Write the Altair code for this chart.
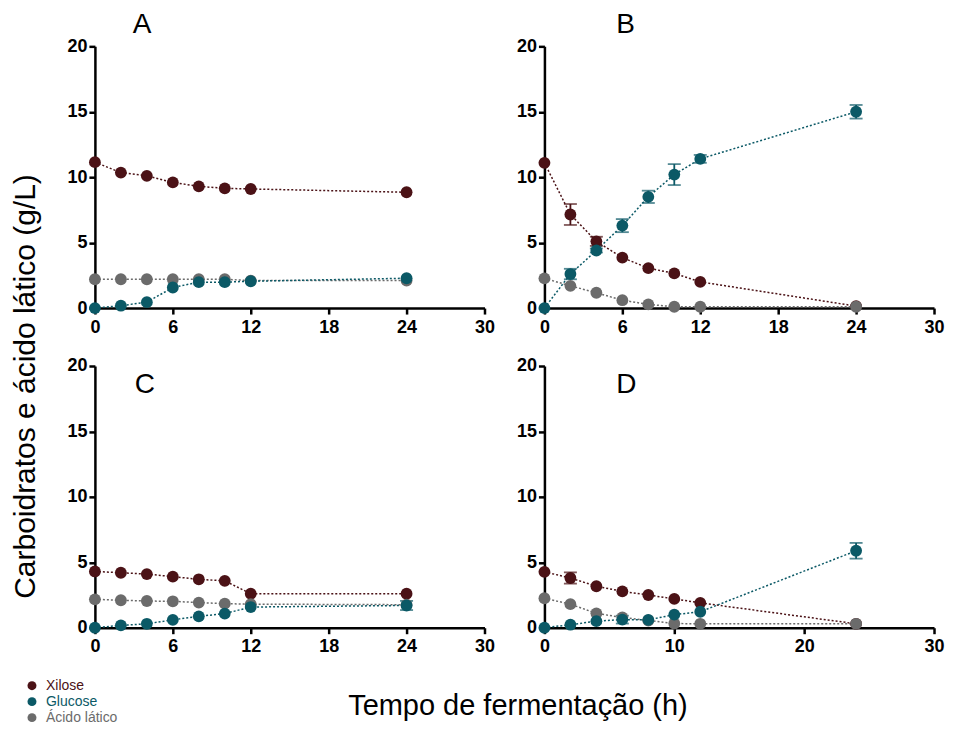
import altair as alt
import pandas as pd

# ---------------- data ----------------
times = [0, 2, 4, 6, 8, 10, 12, 24]
series_names = ["Xilose", "Glucose", "Ácido lático"]
series_colors = ["#4b1216", "#0b5966", "#6b6b6b"]
panel_labels = ["A", "B", "C", "D"]
xticks_abc = [0, 6, 12, 18, 24, 30]
xticks_d = [0, 10, 20, 30]
yticks = [0, 5, 10, 15, 20]

# Panel A
xil_A = [11.15, 10.35, 10.1, 9.6, 9.3, 9.15, 9.1, 8.85]
glc_A = [0.0, 0.18, 0.45, 1.57, 1.98, 1.98, 2.05, 2.28]
lac_A = [2.2, 2.2, 2.2, 2.2, 2.2, 2.2, 2.1, 2.1]
xil_A_err = [0, 0, 0, 0, 0, 0, 0, 0]
glc_A_err = [0, 0, 0, 0, 0, 0, 0, 0]
lac_A_err = [0, 0, 0, 0, 0, 0, 0, 0]

# Panel B
xil_B = [11.1, 7.15, 5.1, 3.85, 3.05, 2.65, 2.0, 0.15]
glc_B = [0.0, 2.6, 4.4, 6.3, 8.5, 10.2, 11.4, 15.0]
lac_B = [2.27, 1.7, 1.17, 0.6, 0.28, 0.1, 0.1, 0.1]
xil_B_err = [0, 0.8, 0.35, 0, 0, 0, 0, 0]
glc_B_err = [0, 0.4, 0.15, 0.5, 0.47, 0.8, 0.3, 0.52]
lac_B_err = [0, 0, 0, 0, 0, 0, 0, 0]

# Panel C
xil_C = [4.3, 4.2, 4.1, 3.9, 3.7, 3.58, 2.6, 2.6]
glc_C = [0.0, 0.18, 0.3, 0.6, 0.87, 1.08, 1.58, 1.7]
lac_C = [2.17, 2.1, 2.04, 2.02, 1.92, 1.84, 1.8, 1.76]
xil_C_err = [0, 0, 0, 0, 0, 0, 0, 0]
glc_C_err = [0, 0, 0, 0, 0, 0, 0, 0.35]
lac_C_err = [0, 0, 0, 0, 0, 0, 0, 0]

# Panel D
xil_D = [4.27, 3.8, 3.17, 2.78, 2.5, 2.2, 1.9, 0.3]
glc_D = [0.0, 0.23, 0.5, 0.62, 0.6, 1.0, 1.22, 5.88]
lac_D = [2.25, 1.8, 1.1, 0.78, 0.55, 0.32, 0.3, 0.3]
xil_D_err = [0, 0.43, 0, 0, 0, 0, 0, 0]
glc_D_err = [0, 0, 0, 0.3, 0, 0, 0, 0.6]
lac_D_err = [0, 0, 0, 0, 0, 0, 0, 0]

FONT = "Liberation Sans"
W, H = 390, 262


def panel_df(xil, glc, lac, xil_e, glc_e, lac_e):
    rows = []
    # drawing order: Xilose, Ácido lático, Glucose (glucose on top)
    for name, vals, errs in [("Xilose", xil, xil_e),
                             ("Ácido lático", lac, lac_e),
                             ("Glucose", glc, glc_e)]:
        for t, v, e in zip(times, vals, errs):
            rows.append({"t": t, "v": v, "lo": v - e, "hi": v + e,
                         "err": e, "s": name})
    return pd.DataFrame(rows)


color_scale = alt.Scale(domain=series_names, range=series_colors)
label_color_expr = ("datum.label === 'Xilose' ? '#4b1216' : "
                    "datum.label === 'Glucose' ? '#0b5966' : '#6b6b6b'")

# one identical legend definition for every colour encoding (merged into one)
legend = alt.Legend(title=None, orient="none", legendX=-70, legendY=633,
                    symbolType="circle", symbolSize=80, symbolStrokeWidth=0,
                    symbolOpacity=1, labelFont=FONT, labelFontSize=14,
                    labelColor=alt.ExprRef(label_color_expr),
                    rowPadding=2, padding=0, clipHeight=14, labelOffset=7)
color = alt.Color("s:N", scale=color_scale, legend=legend)


def make_panel(df, label, xticks, tdx, toffset, y_title=None, x_title=None):
    if y_title:
        y_axis = alt.Axis(values=yticks, title=y_title, titleX=-69, titleY=340,
                          titleAngle=270, titleAlign="center",
                          titleBaseline="middle", titleFontSize=30,
                          titleFont=FONT, titleFontWeight="normal",
                          titleColor="black")
    else:
        y_axis = alt.Axis(values=yticks, title=None)
    if x_title:
        x_axis = alt.Axis(values=xticks, title=x_title, titleX=423, titleY=78,
                          titleAngle=0, titleAlign="center",
                          titleBaseline="middle", titleFontSize=29,
                          titleFont=FONT, titleFontWeight="normal",
                          titleColor="black")
    else:
        x_axis = alt.Axis(values=xticks, title=None)

    xs = alt.Scale(domain=[0, 30], nice=False)
    ys = alt.Scale(domain=[0, 20], nice=False)
    x = alt.X("t:Q", scale=xs, axis=x_axis)

    base = alt.Chart(df)
    lines = base.mark_line(strokeDash=[2, 2], strokeWidth=1.5).encode(
        x=x, y=alt.Y("v:Q", scale=ys, axis=y_axis), color=color,
        detail="s:N",
    )
    layers = [lines]
    err_df = df[df["err"] > 0]
    if len(err_df) > 0:
        errs = alt.Chart(err_df).mark_errorbar(
            ticks={"size": 13}, thickness=1.8
        ).encode(
            x=x, y=alt.Y("lo:Q", scale=ys, axis=y_axis), y2="hi:Q",
            color=color,
        )
        layers.append(errs)
    pts = base.mark_point(filled=True, size=140, opacity=1).encode(
        x=x, y=alt.Y("v:Q", scale=ys, axis=y_axis), color=color,
    )
    layers.append(pts)
    return alt.layer(*layers).properties(
        width=W, height=H,
        title=alt.TitleParams(text=label, anchor="start", frame="group",
                              dx=tdx, offset=toffset, fontSize=28,
                              font=FONT, fontWeight="normal",
                              baseline="alphabetic", color="black"),
    )


pA = make_panel(panel_df(xil_A, glc_A, lac_A, xil_A_err, glc_A_err, lac_A_err),
                panel_labels[0], xticks_abc, 38, -24,
                y_title="Carboidratos e ácido lático (g/L)")
pB = make_panel(panel_df(xil_B, glc_B, lac_B, xil_B_err, glc_B_err, lac_B_err),
                panel_labels[1], xticks_abc, 72, -24)
pC = make_panel(panel_df(xil_C, glc_C, lac_C, xil_C_err, glc_C_err, lac_C_err),
                panel_labels[2], xticks_abc, 40, -64,
                x_title="Tempo de fermentação (h)")
pD = make_panel(panel_df(xil_D, glc_D, lac_D, xil_D_err, glc_D_err, lac_D_err),
                panel_labels[3], xticks_d, 72, -64)

chart = alt.concat(
    pA, pB, pC, pD, columns=2, spacing={"row": 58, "column": 60},
    bounds="flush",
).properties(
    padding={"left": 3, "top": 3, "right": 0, "bottom": 0},
).configure_view(stroke=None).configure_axis(
    domainColor="black", domainWidth=2.5, tickColor="black", tickWidth=2.5,
    tickSize=6, labelFont=FONT, labelFontSize=18, labelFontWeight="bold",
    labelColor="black", grid=False,
).configure_axisX(labelPadding=4, labelFlush=False).configure_axisY(
    labelPadding=2
)

chart.save("out.html", embed_options={"renderer": "svg", "actions": False})
